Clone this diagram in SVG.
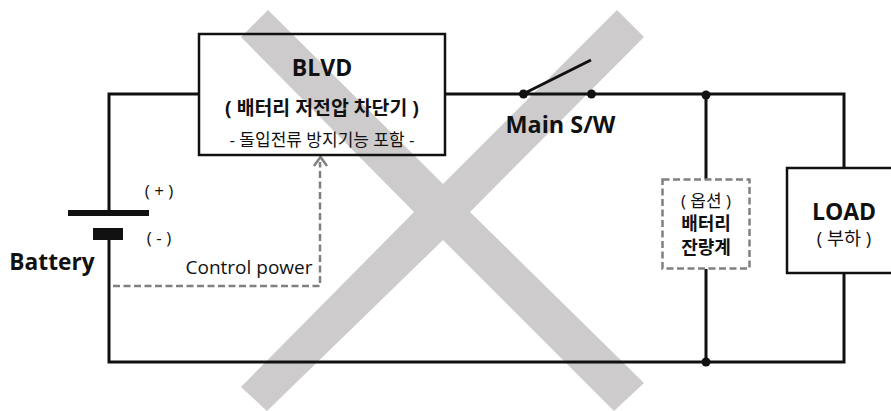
<svg xmlns="http://www.w3.org/2000/svg" width="891" height="411" viewBox="0 0 891 411">
<style>
text{font-family:"Open Sans","Noto Sans CJK KR","Noto Sans",sans-serif;fill:#111;text-anchor:middle}
.b{font-weight:700}
.w{fill:none;stroke:#111;stroke-width:3}
.box{fill:none;stroke:#111;stroke-width:2.5}
.d{fill:none;stroke:#808080;stroke-width:2.5;stroke-dasharray:7 3.5}
</style>
<rect width="891" height="411" fill="#fff"/>
<polygon id="cross" fill="#cdcbcc" points="268,10 443,184 617,10 644,37 470,212 644,383 614,411 443,240 267,411 241,387 414,212 241,37"/>
<g id="connectors">
<path class="w" d="M199 94H109V213M109 239V362H844V273M844 168V94H445M523 94L591 60M706 95V179M706 269V362"/>
<path class="d" d="M113 286H320V162"/>
<path fill="none" stroke="#808080" stroke-width="2.5" d="M314 166L320.500 157L327 166"/>
</g>
<g id="blvd">
<rect class="box" x="199" y="34" width="246" height="121"/>
<text class="b" x="322" y="76" font-size="23">BLVD</text>
<text class="b" x="322" y="115" font-size="19.400">( 배터리 저전압 차단기 )</text>
<text x="322" y="146" font-size="17">- 돌입전류 방지기능 포함 -</text>
</g>
<g id="battery">
<rect x="68" y="210" width="81" height="6" fill="#111"/>
<rect x="93" y="228" width="30" height="12" fill="#111"/>
<text x="159" y="197" font-size="17">( + )</text>
<text x="159" y="244" font-size="17">( - )</text>
<text class="b" x="52" y="270" font-size="22.700">Battery</text>
</g>
<g id="control-label"><text x="249" y="274" font-size="19">Control power</text></g>
<g id="main-sw">
<circle cx="523.500" cy="94" r="4.500" fill="#111"/>
<circle cx="591.500" cy="94" r="4.500" fill="#111"/>
<text class="b" x="560.500" y="133" font-size="23.400">Main S/W</text>
</g>
<g id="junctions">
<circle cx="706" cy="95" r="4.500" fill="#111"/>
<circle cx="706" cy="362" r="4.500" fill="#111"/>
</g>
<g id="gauge">
<rect class="d" x="662.500" y="179.500" width="87" height="89"/>
<text x="706" y="207" font-size="17">( 옵션 )</text>
<text class="b" x="706" y="229.500" font-size="18">배터리</text>
<text class="b" x="706" y="254" font-size="18">잔량계</text>
</g>
<g id="load">
<rect class="box" x="787" y="168" width="110" height="105"/>
<text><tspan class="b" x="844" y="220" font-size="23">LOAD</tspan><tspan x="844" y="245" font-size="18.500">( 부하 )</tspan></text>
</g>
</svg>
